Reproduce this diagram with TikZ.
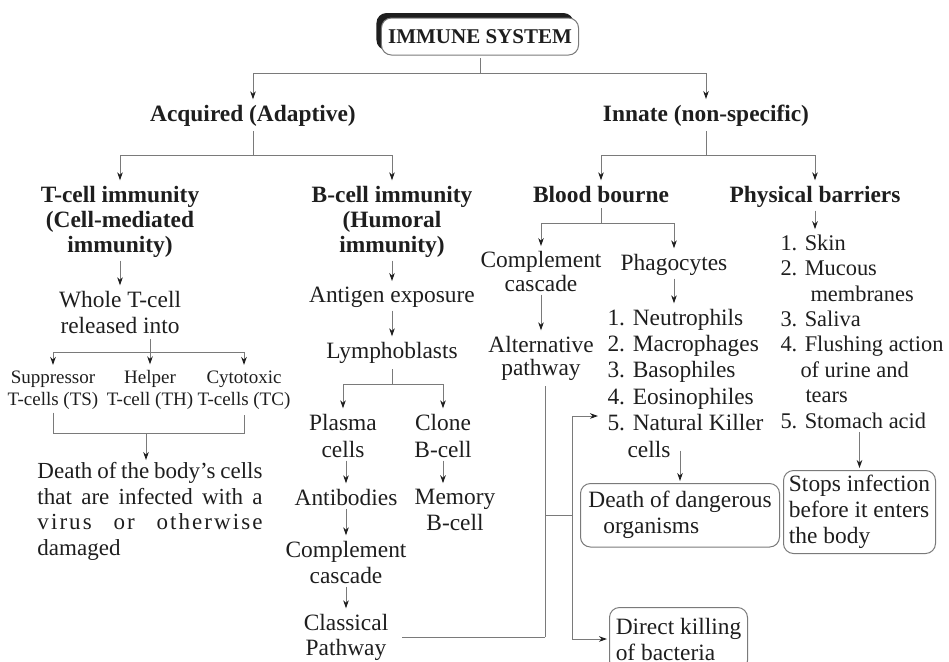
\documentclass[tikz,border=0pt]{standalone}
\usepackage{fontspec}
\setmainfont{Liberation Serif}
\usetikzlibrary{arrows.meta,shadows}
\definecolor{ink}{HTML}{1E1E1E}
\definecolor{wire}{HTML}{7A7A7A}

\begin{document}
\begin{tikzpicture}[x=0.5pt, y=-0.5pt, >={Stealth[length=4pt,width=2.8pt,ink]}, shorten >=1pt, color=wire, line width=0.5pt]
        \tikzset{
           txt/.style={
                        inner sep=1.5pt,
                        text=ink,
                        align=center,
                        anchor=base,
                        font=\fontsize{11.7}{13}\selectfont
                       },
           head/.style={txt, font=\bfseries\fontsize{11.7}{12.5}\selectfont},
           small/.style={txt, font=\fontsize{9.5}{11}\selectfont},
           lst/.style={txt, align=left, anchor=base west},
           box/.style={txt, draw=wire, rounded corners=5pt, align=left, anchor=north west, inner ysep=4pt},
           title/.style={
                        draw=wire,
                        fill=white,
                        rounded corners=5pt,
                        text=ink,
                        font=\bfseries\fontsize{10.5}{12}\selectfont,
                        minimum width=97pt,
                        minimum height=18.5pt,
                        general shadow={fill=ink, shadow xshift=-2.5pt, shadow yshift=2.5pt}
                       },
                 };
        \useasboundingbox (0,0) rectangle (949,661);
    %--------------------
        % multi-line nodes sit on the baseline of their last line
        \node[title]  (sys)     at (480,36.5) {IMMUNE SYSTEM};
        \node[head]   (acq)     at (253,121)  {Acquired (Adaptive)};
        \node[head]   (inn)     at (706,121)  {Innate (non-specific)};

        \node[head]   (tcell)   at (120,252)  {T-cell immunity\\(Cell-mediated\\immunity)};
        \node[head]   (bcell)   at (392,252)  {B-cell immunity\\(Humoral\\immunity)};
        \node[head]   (blood)   at (601,202)  {Blood bourne};
        \node[head]   (phys)    at (815,202)  {Physical barriers};

        \node[txt]    (wtc)     at (120,333)  {Whole T-cell\\released into};
          \node[small]  (supp)    at (53,405)   {Suppressor\\T-cells (TS)};
          \node[small]  (helper)  at (150,405)  {Helper\\T-cell (TH)};
          \node[small]  (cyto)    at (244,405)  {Cytotoxic\\T-cells (TC)};
        \node[txt, align=justify, text width=112.5pt, inner sep=0pt, anchor=north west,
              font=\fontsize{11.5}{12.8}\selectfont]
                      (dbody)   at (37,462)   {Death of the body’s cells\linebreak that are infected with a\linebreak {\addfontfeatures{LetterSpace=9}virus or otherwise}\linebreak damaged};

        \node[txt]    (antigen) at (392,302)  {Antigen exposure};
        \node[txt]    (lympho)  at (392,358)  {Lymphoblasts};
          \node[txt, font=\fontsize{11.7}{13.5}\selectfont] (plasma) at (343,457) {Plasma\\cells};
          \node[txt, font=\fontsize{11.7}{13.5}\selectfont] (clone)  at (443,457) {Clone\\B-cell};
          \node[txt]    (antib)   at (346,505)  {Antibodies};
          \node[txt]    (memory)  at (455,530)  {Memory\\B-cell};
          \node[txt]    (bcasc)   at (346,583)  {Complement\\cascade};
          \node[txt, font=\fontsize{11.7}{12.5}\selectfont] (classic) at (346,655) {Classical\\Pathway};

        \node[txt, font=\fontsize{11.7}{10.5}\selectfont] (ccasc)   at (541,291) {Complement\\cascade};
        \node[txt, font=\fontsize{11.7}{11.5}\selectfont] (altpath) at (541,375) {Alternative\\pathway};
        \node[txt]    (phago)   at (674,270)  {Phagocytes};
        \node[lst, font=\fontsize{11.7}{13.2}\selectfont]
                      (plist)   at (604,457)  {1. Neutrophils\\2. Macrophages\\3. Basophiles\\4. Eosinophiles\\5. Natural Killer\\\hspace*{10pt}cells};
        \node[box, minimum width=99.5pt, minimum height=30pt]
                      (dead)    at (580,483)  {Death of dangerous\\\hspace*{7.5pt}organisms};
        \node[box, minimum width=69pt, minimum height=31.5pt]
                      (kill)    at (609,607)  {Direct killing\\of bacteria};

        \node[lst, font=\fontsize{11.2}{12.7}\selectfont]
                      (blist)   at (777,428)  {1. Skin\\2. Mucous\\\hspace*{15pt}membranes\\3. Saliva\\4. Flushing action\\\hspace*{10pt}of urine and\\\hspace*{12.5pt}tears\\5. Stomach acid};
        \node[box, inner xsep=2pt, inner ysep=2pt, minimum width=76pt, minimum height=41.5pt]
                      (stops)   at (783,470)  {Stops infection\\before it enters\\the body};
    %--------------------
        \coordinate (f1) at (480,73);
        \coordinate (f2) at (253,155);
        \coordinate (f3) at (706,155);
        \coordinate (f4) at (601,223);
        \coordinate (f5) at (150,352);
        \coordinate (f6) at (392,384);
        \coordinate (g1) at (146,433);
        \coordinate (j1) at (545,637);
        \coordinate (j2) at (545,515);
        \coordinate (j3) at (572,515);
        \coordinate (nkin) at (600,416);

        \draw (f1) -- (sys);
        \draw[->] (f1) -| (acq);
        \draw[->] (f1) -| (inn);
        \draw (f2) -- (acq);
        \draw[->] (f2) -| (tcell);
        \draw[->] (f2) -| (bcell);
        \draw (f3) -- (inn);
        \draw[->] (f3) -| (blood);
        \draw[->] (f3) -| (phys);
        \draw (f4) -- (blood);
        \draw[->] (f4) -| (ccasc);
        \draw[->] (f4) -| (phago);
        \draw (f5) -- (wtc.south -| f5);
        \draw[->] (f5) -| (supp);
        \draw[->] (f5) -| (cyto);
        \draw (f6) -- (lympho);
        \draw[->] (f6) -| (plasma);
        \draw[->] (f6) -| (clone);
        \draw (supp) |- (g1) -| (cyto);
        \draw[->] (g1) -- (g1 |- dbody.north);
        \draw (j1) -- ([xshift=4pt]classic.east |- j1);
        \draw (j1) -- (altpath.south -| j1);
        \draw[->] (j2) -- (j3) |- (nkin);
        \draw[->] (j3) |- (kill);

        \path[->] (tcell)   edge (wtc)
                  (f5)      edge (helper)
                  (bcell)   edge (antigen)
                  (antigen) edge (lympho)
                  (antib)   edge (bcasc)
                  (bcasc)   edge (classic)
                  (ccasc)   edge (altpath)
        ;
        \draw[->] (plasma.south -| antib) -- (antib);
        \draw[->] (clone) -- (clone |- memory.north);
        \draw[->] (phago) -- (phago |- plist.north);
        \draw[->] ([yshift=5pt]plist.south -| dead.north) -- (dead);
        \draw[->] (phys) -- (phys |- blist.north);
        \draw[->] (blist.south -| stops.north) -- (stops);
    \end{tikzpicture}
\end{document}
